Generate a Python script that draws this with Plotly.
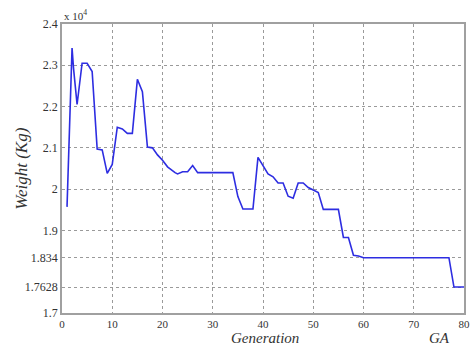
import plotly.graph_objects as go

# Best weight found by the GA at each generation (units of 10^4 kg)
generation = [1, 2, 2.3, 3, 4, 5, 6, 7, 8, 9, 10, 11, 12, 13, 14, 15, 16, 17, 18,
              19, 20, 21, 22.5, 23, 24, 25, 26, 27, 34, 35, 36, 38, 39, 40, 41,
              42, 43, 44, 45, 46, 47, 48, 49, 50, 51, 52, 55, 56, 57, 58, 59, 60,
              77, 78, 79, 80]
weight = [1.957, 2.342, 2.292, 2.205, 2.305, 2.305, 2.285, 2.097, 2.095, 2.038,
          2.060, 2.150, 2.146, 2.135, 2.135, 2.266, 2.236, 2.102, 2.100, 2.083,
          2.070, 2.054, 2.040, 2.037, 2.042, 2.042, 2.057, 2.040, 2.040, 1.982,
          1.952, 1.952, 2.077, 2.057, 2.037, 2.030, 2.015, 2.015, 1.983, 1.978,
          2.015, 2.015, 2.004, 1.998, 1.992, 1.951, 1.951, 1.883, 1.883, 1.840,
          1.838, 1.834, 1.834, 1.7628, 1.7628, 1.7628]

y_ticks = [1.7, 1.7628, 1.834, 1.9, 2.0, 2.1, 2.2, 2.3, 2.4]
y_tick_text = ["1.7", "1.7628", "1.834", "1.9", "2", "2.1", "2.2", "2.3", "2.4"]
x_ticks = [0, 10, 20, 30, 40, 50, 60, 70, 80]

serif = "Liberation Serif, Times New Roman, serif"

fig = go.Figure()
fig.add_trace(go.Scatter(
    x=generation, y=weight, mode="lines",
    line=dict(color="rgb(45,45,225)", width=1.6),
    showlegend=False,
))

axis_common = dict(
    showline=True, linecolor="#a0a0a0", linewidth=1.5, mirror=True,
    showgrid=True, gridcolor="#9a9a9a", griddash="dot", gridwidth=1,
    zeroline=False, ticks="", ticklabeloverflow="allow",
)

fig.update_xaxes(range=[0, 80], tickvals=x_ticks,
                 tickfont=dict(family=serif, size=11, color="#333"),
                 **axis_common)
fig.update_yaxes(range=[1.7, 2.4], tickvals=y_ticks, ticktext=y_tick_text,
                 tickfont=dict(family=serif, size=12, color="#333"),
                 **axis_common)

fig.update_layout(
    width=473, height=347,
    margin=dict(l=62, r=3, t=24, b=34),
    paper_bgcolor="white", plot_bgcolor="white",
    annotations=[
        dict(text="x 10<sup>4</sup>", xref="paper", yref="paper", x=0, y=1,
             xanchor="left", yanchor="bottom", showarrow=False,
             font=dict(family=serif, size=11, color="#333")),
        dict(text="<i>Weight (Kg)</i>", xref="paper", yref="paper",
             x=-0.103, y=0.498, textangle=-90, xanchor="center", yanchor="middle",
             showarrow=False, font=dict(family=serif, size=17, color="#333")),
        dict(text="<i>Generation</i>", xref="paper", yref="paper",
             x=0.505, y=-0.088, xanchor="center", yanchor="middle",
             showarrow=False, font=dict(family=serif, size=15, color="#333")),
        dict(text="<i>GA</i>", xref="paper", yref="paper",
             x=0.94, y=-0.088, xanchor="center", yanchor="middle",
             showarrow=False, font=dict(family=serif, size=15, color="#333")),
    ],
)

fig.write_html("out.html")
